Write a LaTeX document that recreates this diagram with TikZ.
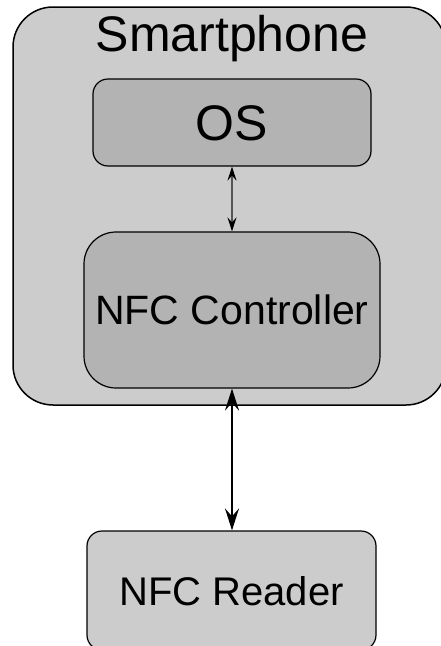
\documentclass[tikz,border=0pt]{standalone}
\usepackage{fontspec}
\setmainfont{Liberation Sans}
\usetikzlibrary{arrows.meta}

\definecolor{shellgray}{HTML}{CCCCCC}
\definecolor{partgray}{HTML}{B3B3B3}
\definecolor{thinarrow}{HTML}{555555}

\tikzset{
  shell/.style={draw=black, line width=1.5pt, fill=shellgray, rounded corners=40pt,
    inner sep=0pt, minimum width=433pt, minimum height=398pt},
  part/.style={draw=black, line width=1.2pt, inner sep=0pt, text depth=0pt},
  smalltip/.tip={Stealth[length=14pt,width=9pt,inset=5pt,color=black,fill=black]},
  bigtip/.tip={Stealth[length=22pt,width=14pt,inset=8pt]},
  smalllink/.style={draw=thinarrow, line width=1.6pt, smalltip-smalltip},
  biglink/.style={draw=black, line width=1.8pt, bigtip-bigtip},
}

\begin{document}
\begin{tikzpicture}[x=1pt, y=-1pt]
  \useasboundingbox (0,0) rectangle (441,646);
  \clip (0,0) rectangle (441,646);

  % phone outline with its title
  \node[shell] (phone) at (229.5,206) {};
  \node[anchor=base, font=\fontsize{50}{52}\selectfont] (title) at (232,51) {Smartphone};

  % parts inside the phone
  \node[part, fill=partgray, rounded corners=15pt, minimum width=278pt, minimum height=87pt,
        text height=36pt, font=\fontsize{50}{52}\selectfont] (os) at (232,122.5) {OS};
  \node[part, fill=partgray, rounded corners=32pt, minimum width=296pt, minimum height=156pt,
        text height=29pt, font=\fontsize{41}{44}\selectfont] (ctrl) at (232,310) {NFC Controller};

  % external reader
  \node[part, fill=shellgray, rounded corners=15pt, minimum width=289pt, minimum height=119pt,
        text height=29pt, font=\fontsize{40}{43}\selectfont] (reader) at (231.5,590.5) {NFC Reader};

  % links
  \draw[smalllink] (os.south) -- (ctrl.north);
  \draw[biglink] (ctrl.south) -- (ctrl.south |- reader.north);
\end{tikzpicture}
\end{document}
